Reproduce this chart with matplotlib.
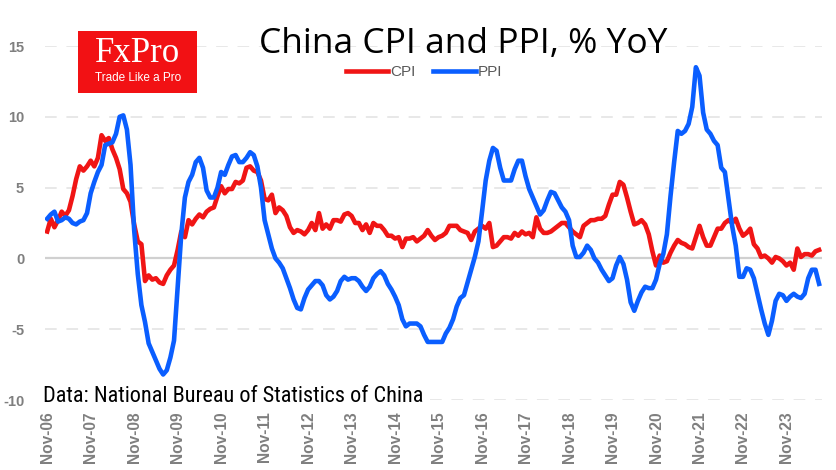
import matplotlib
matplotlib.use("Agg")
import matplotlib.pyplot as plt
from matplotlib.patches import Rectangle
from matplotlib import font_manager

# ---------------- data (monthly, Nov 2006 .. Aug 2024) ----------------
cpi = [
    1.9, 2.8,
    2.2, 2.7, 3.3, 3.0, 3.4, 4.4, 5.6, 6.5, 6.2, 6.5, 6.9, 6.5,
    7.1, 8.7, 8.3, 8.5, 7.7, 7.1, 6.3, 4.9, 4.6, 4.0, 2.4, 1.2,
    1.0, -1.6, -1.2, -1.5, -1.4, -1.7, -1.8, -1.2, -0.8, -0.5, 0.6, 1.9,
    1.5, 2.7, 2.4, 2.8, 3.1, 2.9, 3.3, 3.5, 3.6, 4.4, 5.1, 4.6,
    4.9, 4.9, 5.4, 5.3, 5.5, 6.4, 6.5, 6.2, 6.1, 5.5, 4.2, 4.1,
    4.5, 3.2, 3.6, 3.4, 3.0, 2.2, 1.8, 2.0, 1.9, 1.7, 2.0, 2.5,
    2.0, 3.2, 2.1, 2.4, 2.1, 2.7, 2.7, 2.6, 3.1, 3.2, 3.0, 2.5,
    2.5, 2.0, 2.4, 1.8, 2.5, 2.3, 2.3, 2.0, 1.6, 1.6, 1.4, 1.5,
    0.8, 1.4, 1.4, 1.5, 1.2, 1.4, 1.6, 2.0, 1.6, 1.3, 1.5, 1.6,
    1.8, 2.3, 2.3, 2.3, 2.0, 1.9, 1.8, 1.3, 1.9, 2.1, 2.3, 2.1,
    2.5, 0.8, 0.9, 1.2, 1.5, 1.5, 1.4, 1.8, 1.6, 1.9, 1.7, 1.8,
    1.5, 2.9, 2.1, 1.8, 1.8, 1.9, 2.1, 2.3, 2.5, 2.5, 2.2, 1.9,
    1.7, 1.5, 2.3, 2.5, 2.7, 2.7, 2.8, 2.8, 3.0, 3.8, 4.5, 4.5,
    5.4, 5.2, 4.3, 3.3, 2.4, 2.5, 2.7, 2.4, 1.7, 0.5, -0.5, 0.2,
    -0.3, -0.2, 0.4, 0.9, 1.3, 1.1, 1.0, 0.8, 0.7, 1.5, 2.3, 1.5,
    0.9, 0.9, 1.5, 2.1, 2.1, 2.5, 2.7, 2.5, 2.8, 2.1, 1.6, 1.8,
    2.1, 1.0, 0.7, 0.1, 0.2, 0.0, -0.3, 0.1, 0.0, -0.2, -0.5, -0.3,
    -0.8, 0.7, 0.1, 0.3, 0.3, 0.2, 0.5, 0.6,
]
ppi = [
    2.8, 3.1,
    3.3, 2.6, 2.7, 2.9, 2.8, 2.5, 2.4, 2.6, 2.7, 3.2, 4.6, 5.4,
    6.1, 6.6, 8.0, 8.1, 8.2, 8.8, 10.0, 10.1, 9.1, 6.6, 2.0, -1.1,
    -3.3, -4.5, -6.0, -6.6, -7.2, -7.8, -8.2, -7.9, -7.0, -5.8, -2.1, 1.7,
    4.3, 5.4, 5.9, 6.8, 7.1, 6.4, 4.8, 4.3, 4.3, 5.0, 6.1, 5.9,
    6.6, 7.2, 7.3, 6.8, 6.8, 7.1, 7.5, 7.3, 6.5, 5.0, 2.7, 1.7,
    0.7, 0.0, -0.3, -0.7, -1.4, -2.1, -2.9, -3.5, -3.6, -2.8, -2.2, -1.9,
    -1.6, -1.6, -1.9, -2.6, -2.9, -2.7, -2.3, -1.6, -1.3, -1.5, -1.4, -1.4,
    -1.6, -2.0, -2.3, -2.0, -1.4, -1.1, -0.9, -1.2, -1.8, -2.2, -2.7, -3.3,
    -4.3, -4.8, -4.6, -4.6, -4.6, -4.8, -5.4, -5.9, -5.9, -5.9, -5.9, -5.9,
    -5.3, -4.9, -4.3, -3.4, -2.8, -2.6, -1.7, -0.8, 0.1, 1.2, 3.3, 5.5,
    6.9, 7.8, 7.6, 6.4, 5.5, 5.5, 5.5, 6.3, 6.9, 6.9, 5.8, 4.9,
    4.3, 3.7, 3.1, 3.4, 4.1, 4.7, 4.6, 4.1, 3.6, 3.3, 2.7, 0.9,
    0.1, 0.1, 0.4, 0.9, 0.6, 0.0, -0.3, -0.8, -1.2, -1.6, -1.4, -0.5,
    0.1, -0.4, -1.5, -3.1, -3.7, -3.0, -2.4, -2.0, -2.1, -2.1, -1.5, -0.4,
    0.3, 1.7, 4.4, 6.8, 9.0, 8.8, 9.0, 9.5, 10.7, 13.5, 12.9, 10.3,
    9.1, 8.8, 8.3, 8.0, 6.4, 6.1, 4.2, 2.3, 0.9, -1.3, -1.3, -0.7,
    -0.8, -1.4, -2.5, -3.6, -4.6, -5.4, -4.4, -3.0, -2.5, -2.6, -3.0, -2.7,
    -2.5, -2.7, -2.8, -2.5, -1.4, -0.8, -0.8, -1.8,
]
tick_labels = ["Nov-06", "Nov-07", "Nov-08", "Nov-09", "Nov-10", "Nov-11",
               "Nov-12", "Nov-13", "Nov-14", "Nov-15", "Nov-16", "Nov-17",
               "Nov-18", "Nov-19", "Nov-20", "Nov-21", "Nov-22", "Nov-23"]
y_ticks = [15, 10, 5, 0, -5, -10]

# ---------------- fonts ----------------
avail = {f.name for f in font_manager.fontManager.ttflist}
def pick(*names):
    for n in names:
        if n in avail:
            return n
    return "DejaVu Sans"
SANS = pick("Liberation Sans", "Arial", "DejaVu Sans")
NARROW = pick("Liberation Sans Narrow", "Roboto Condensed", "DejaVu Sans")
TITLE = pick("Open Sans", "Noto Sans", "DejaVu Sans")
SERIF = pick("Liberation Serif", "DejaVu Serif")

RED = "#F01515"
BLUE = "#0A5EFF"
GREY = "#7F7F7F"

fig = plt.figure(figsize=(8.36, 4.70), dpi=100)
ax = fig.add_axes([45/836, 1 - 400/470, (822 - 45)/836, (400 - 46)/470])

x = list(range(len(cpi)))
ax.plot(x, cpi, color=RED, lw=3.3, label="CPI", solid_joinstyle="round", zorder=3)
ax.plot(x, ppi, color=BLUE, lw=3.3, label="PPI", solid_joinstyle="round", zorder=4)

ax.set_ylim(-10, 15)
ax.set_xlim(-0.6, 213.8)
ax.set_yticks(y_ticks)
ax.set_yticklabels([str(v) for v in y_ticks])
ax.set_xticks([12 * i for i in range(len(tick_labels))])
ax.set_xticklabels(tick_labels, rotation=90)

for sp in ax.spines.values():
    sp.set_visible(False)
ax.tick_params(axis="both", length=0, colors=GREY)
ax.tick_params(axis="y", pad=15)
ax.tick_params(axis="x", pad=8)
for lab in ax.get_yticklabels():
    lab.set_fontfamily(SANS)
    lab.set_fontweight("bold")
    lab.set_fontsize(10.5)
    lab.set_color(GREY)
for lab in ax.get_xticklabels():
    lab.set_fontfamily(SANS)
    lab.set_fontweight("bold")
    lab.set_fontsize(11.2)
    lab.set_color(GREY)

for v in y_ticks:
    if v == 0:
        ax.axhline(v, color="#D0D0D0", lw=1.6, zorder=1)
    else:
        ax.axhline(v, color="#E8E8E8", lw=1.4, ls=(0, (6, 5)), zorder=1)

# title
fig.text(463/836, 1 - 44/470, "China CPI and PPI, % YoY", ha="center", va="center",
         fontsize=25.5, family=TITLE, color="black")

# legend
leg = fig.legend(loc="center", bbox_to_anchor=(424/836, 1 - 72/470), ncol=2,
                 frameon=False, handlelength=2.8, handletextpad=0.15,
                 columnspacing=1.1, prop={"family": SANS, "size": 11})
for t in leg.get_texts():
    t.set_color("#595959")

# data source
ax.text(43/836, 1 - 396/470, "Data: National Bureau of Statistics of China",
        transform=fig.transFigure, ha="left", va="center", fontsize=16,
        family=NARROW, color="black", zorder=6,
        bbox=dict(facecolor="white", edgecolor="none", pad=1))

# logo
fig.patches.append(Rectangle((78/836, 1 - 93/470), 119/836, 62/470,
                             transform=fig.transFigure, facecolor="#F21114",
                             edgecolor="none", zorder=5))
fig.text(138/836, 1 - 53/470, "FxPro", ha="center", va="center", fontsize=25,
         family=SERIF, color="white", zorder=6)
fig.text(138/836, 1 - 78/470, "Trade Like a Pro", ha="center", va="center",
         fontsize=8.5, family=SANS, color="white", zorder=6)

fig.savefig("out.png", dpi=100)
